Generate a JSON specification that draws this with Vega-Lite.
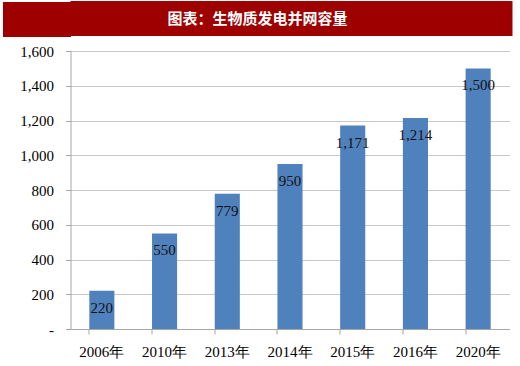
{
  "$schema": "https://vega.github.io/schema/vega-lite/v6.json",
  "padding": {"left": -15.5, "top": 1, "right": 0, "bottom": 0},
  "background": "white",
  "spacing": 7,
  "config": {"view": {"stroke": null}},
  "vconcat": [
    {
      "width": 442,
      "height": 35,
      "view": {"fill": "#9e0000", "stroke": null},
      "data": {"values": [{"label": "图表：生物质发电并网容量"}]},
      "mark": {"type": "text", "color": "white", "font": "Noto Sans CJK SC", "fontWeight": "bold", "fontSize": 15, "baseline": "middle", "align": "center", "dx": -34},
      "encoding": {
        "text": {"field": "label"},
        "y": {"field": "label", "type": "nominal",
          "scale": {"paddingInner": 0, "paddingOuter": 0},
          "axis": {"title": null, "labels": false, "domain": false, "grid": false, "ticks": true,
            "tickSize": 68, "tickWidth": 35, "tickColor": "#9e0000", "tickCap": "butt"}}
      }
    },
    {
      "width": 439,
      "height": 278,
      "data": {"values": [
        {"year": "2006年", "value": 220},
        {"year": "2010年", "value": 550},
        {"year": "2013年", "value": 779},
        {"year": "2014年", "value": 950},
        {"year": "2015年", "value": 1171},
        {"year": "2016年", "value": 1214},
        {"year": "2020年", "value": 1500}
      ]},
      "encoding": {
        "x": {"field": "year", "type": "nominal", "sort": null,
          "scale": {"paddingInner": 0.6, "paddingOuter": 0.3},
          "axis": {"title": null, "labelAngle": 0, "labelFont": "Liberation Serif", "labelFontSize": 15, "labelColor": "#000", "domainColor": "#a6a6a6", "tickColor": "#a6a6a6", "tickSize": 5, "bandPosition": 0, "labelPadding": 10, "grid": false}},
        "y": {"field": "value", "type": "quantitative",
          "scale": {"domain": [0, 1600], "nice": false},
          "axis": {"title": null, "values": [0, 200, 400, 600, 800, 1000, 1200, 1400, 1600],
            "labelExpr": "datum.value == 0 ? '-' : format(datum.value, ',')",
            "labelFont": "Liberation Serif", "labelFontSize": 15, "labelColor": "#000",
            "domainColor": "#a6a6a6", "tickColor": "#a6a6a6", "tickSize": 5, "labelPadding": 12,
            "minExtent": 68,
            "gridColor": "#c8c8c8", "gridWidth": 1}}
      },
      "layer": [
        {"mark": {"type": "bar", "color": "#4f81bd"}},
        {"mark": {"type": "text", "baseline": "top", "dy": 10, "font": "Liberation Serif", "fontSize": 15, "color": "#111"},
          "encoding": {"text": {"field": "value", "type": "quantitative", "format": ","}}}
      ]
    }
  ]
}
